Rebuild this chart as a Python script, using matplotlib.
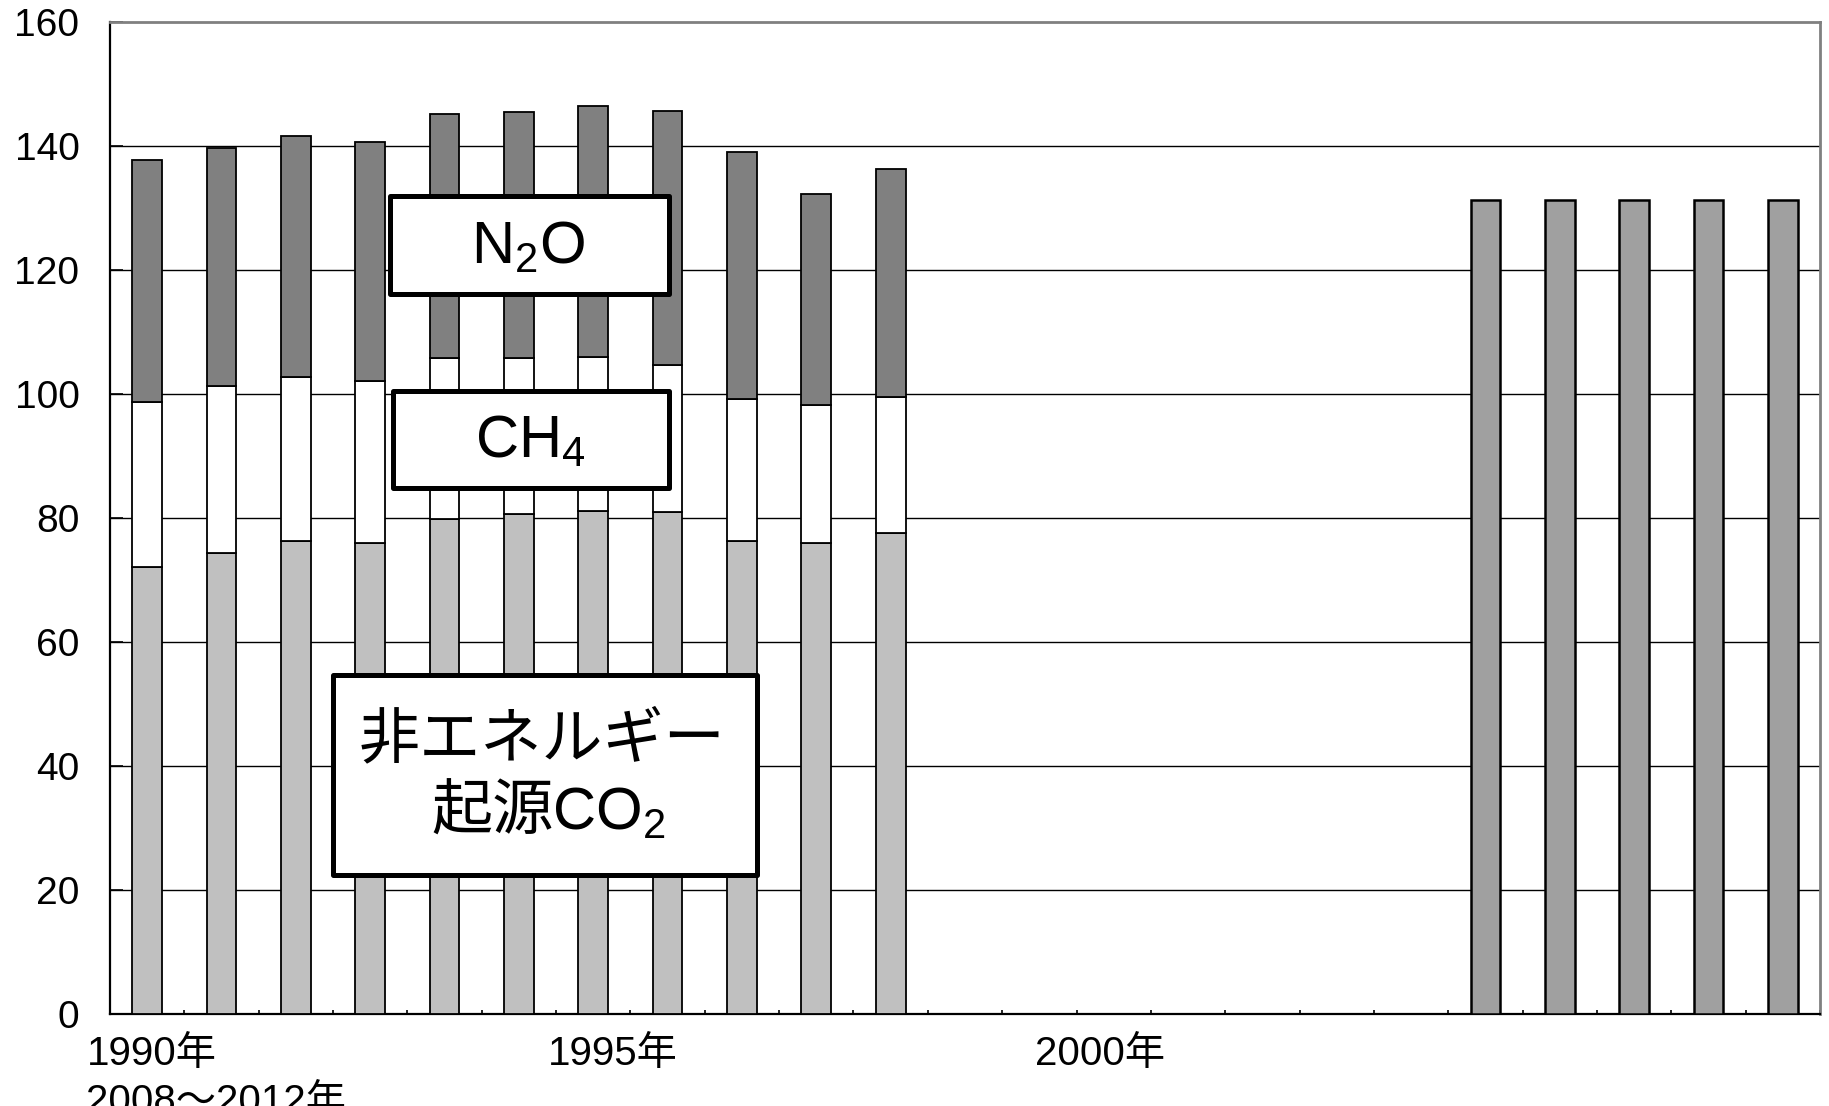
import numpy as np
import matplotlib
matplotlib.use('Agg')
import matplotlib.pyplot as plt
from matplotlib.patches import Rectangle

plt.rcParams['font.family'] = ['Liberation Sans', 'Noto Sans CJK JP']
plt.rcParams['mathtext.fontset'] = 'custom'
plt.rcParams['mathtext.rm'] = 'Liberation Sans'
plt.rcParams['mathtext.it'] = 'Liberation Sans:italic'
plt.rcParams['mathtext.bf'] = 'Liberation Sans:bold'

# データ (1990-2000 実績, 2008-2012 目標)
hist_years = [1990, 1991, 1992, 1993, 1994, 1995, 1996, 1997, 1998, 1999, 2000]
co2_non_energy = [72.1, 74.4, 76.3, 76.0, 79.8, 80.7, 81.1, 81.0, 76.3, 76.0, 77.6]
ch4 = [26.6, 26.9, 26.5, 26.1, 26.0, 25.1, 24.9, 23.7, 22.9, 22.3, 21.9]
n2o = [39.1, 38.4, 38.8, 38.5, 39.4, 39.7, 40.5, 41.0, 39.8, 34.0, 36.9]
target_years = [2008, 2009, 2010, 2011, 2012]
target = [131.3, 131.3, 131.3, 131.3, 131.3]
first_year, last_year = 1990, 2012

yticks = [0, 20, 40, 60, 80, 100, 120, 140, 160]
xlabels = ['1990年', '1995年', '2000年', '2008～2012年']
xlabel_pos = [0.06, 6.26, 12.82, 0.93]
xlabel_row = [0, 0, 0, 1]

W, H = 1829, 1106
fig = plt.figure(figsize=(W / 100, H / 100), dpi=100)
ax = fig.add_axes([110 / W, (H - 1013.5) / H, 1710 / W, 991.2 / H])


def fx(px):
    return px / W


def fy(py):
    return 1 - py / H


x_hist = np.array(hist_years) - first_year
x_tgt = np.array(target_years) - first_year
bw = 0.4
co2_arr = np.array(co2_non_energy)
ch4_arr = np.array(ch4)
ax.bar(x_hist, co2_arr, bw, color='#c0c0c0', edgecolor='black', linewidth=1.3, zorder=3)
ax.bar(x_hist, ch4_arr, bw, bottom=co2_arr, color='white', edgecolor='black',
       linewidth=1.3, zorder=3)
ax.bar(x_hist, n2o, bw, bottom=co2_arr + ch4_arr, color='#808080', edgecolor='black',
       linewidth=1.3, zorder=3)
ax.bar(x_tgt, target, bw, color='#a0a0a0', edgecolor='black', linewidth=1.8, zorder=3)

for v in yticks[1:-1]:
    ax.axhline(v, color='black', linewidth=1.0, zorder=1)

n_cat = last_year - first_year + 1
ax.set_xlim(-0.5, n_cat - 0.5)
ax.set_ylim(0, 160)
ax.set_yticks(yticks)
ax.set_yticklabels([str(v) for v in yticks], fontsize=28)
ax.set_xticks(np.arange(-0.5, n_cat, 1))
ax.set_xticklabels([])
ax.tick_params(axis='y', direction='in', length=9, width=1.2, pad=22)
ax.tick_params(axis='x', direction='in', length=3, width=1.2)

for side in ['top', 'right']:
    ax.spines[side].set_color('#808080')
    ax.spines[side].set_linewidth(2)
for side in ['left', 'bottom']:
    ax.spines[side].set_color('black')
    ax.spines[side].set_linewidth(1.6)

trans = ax.get_xaxis_transform()
for lab, pos, row in zip(xlabels, xlabel_pos, xlabel_row):
    ax.text(pos, -0.052 - 0.0484 * row, lab, transform=trans, ha='center',
            va='baseline', fontsize=29, clip_on=False)

# ラベルボックス
boxes = [(389.5, 196.5, 668.5, 294.5), (392.5, 390.5, 668.5, 487.5),
         (332.5, 674.5, 756.5, 874.5)]
for x0, y0, x1, y1 in boxes:
    fig.add_artist(Rectangle((fx(x0), fy(y1)), fx(x1) - fx(x0), fy(y0) - fy(y1),
                             transform=fig.transFigure, facecolor='white',
                             edgecolor='black', linewidth=3.6, joinstyle='round',
                             zorder=10))

fig.text(fx(528), fy(264), r'N$_\mathrm{2}$O', ha='center', va='baseline',
         fontsize=43, zorder=11)
fig.text(fx(530), fy(458), r'CH$_\mathrm{4}$', ha='center', va='baseline',
         fontsize=43, zorder=11)
fig.text(fx(542), fy(757), '非エネルギー', ha='center', va='baseline',
         fontsize=44, zorder=11)
fig.text(fx(554), fy(830), '起源', ha='right', va='baseline',
         fontsize=44, zorder=11)
fig.text(fx(552), fy(830), r'CO$_\mathrm{2}$', ha='left', va='baseline',
         fontsize=43, zorder=11)

fig.savefig('out.png', dpi=100)
